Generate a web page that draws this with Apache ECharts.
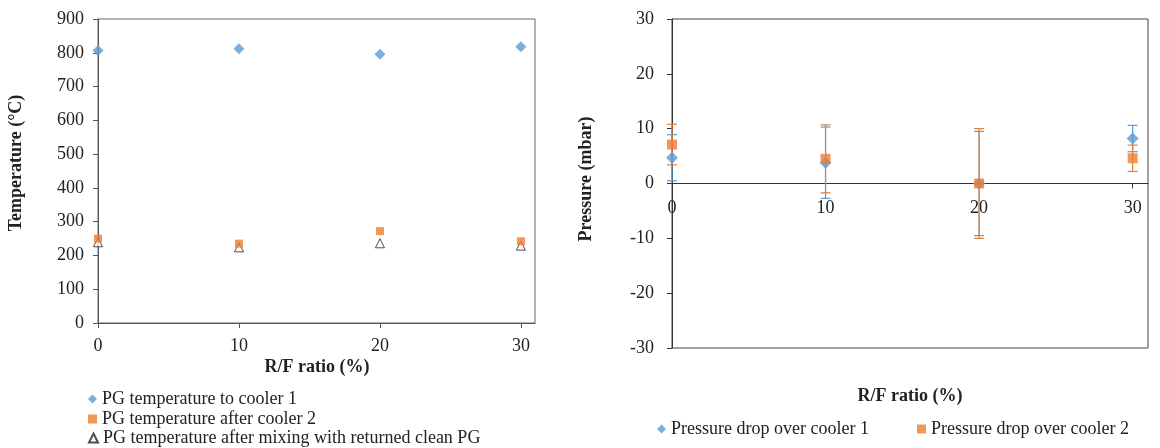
<!DOCTYPE html>
<html>
<head>
<meta charset="utf-8">
<script src="https://cdn.jsdelivr.net/npm/echarts@6/dist/echarts.min.js"></script>
<style>
  html, body { margin: 0; padding: 0; background: #fff; }
  #chart { width: 1160px; height: 448px; }
</style>
</head>
<body>
<div id="chart"></div>
<script>
// R/F ratio (%)
const ratios = [0, 10, 20, 30];

// left: temperatures (°C)
const tempToCooler1 = [807, 812, 796, 818];
const tempAfterCooler2 = [250, 235, 272, 242];
const tempAfterMixing = [239, 224, 236, 229];

// right: pressure drop (mbar) with error
const dpCooler1 = [4.7, 3.8, 0.0, 8.2];
const dpCooler1Err = [4.2, 6.5, 9.5, 2.4];
const dpCooler2 = [7.1, 4.5, 0.0, 4.6];
const dpCooler2Err = [3.7, 6.2, 10.0, 2.4];

const BLUE = '#5B9BD5';
const ORANGE = '#ED7D31';
const FONT = 'Liberation Serif';

const myChart = echarts.init(document.getElementById('chart'));

const pairs = (xs, ys) => xs.map((x, i) => [x, ys[i]]);
const triples = (xs, ys, es) => xs.map((x, i) => [x, ys[i], es[i]]);

// 误差线
function errorBar(color) {
    return function (params, api) {
        const x = api.value(0), y = api.value(1), e = api.value(2);
        const top = api.coord([x, y + e]);
        const bot = api.coord([x, y - e]);
        const w = 5;
        const style = { stroke: color, lineWidth: 1.2 };
        return {
            type: 'group',
            children: [
                { type: 'line', shape: { x1: top[0], y1: top[1], x2: bot[0], y2: bot[1] }, style },
                { type: 'line', shape: { x1: top[0] - w, y1: top[1], x2: top[0] + w, y2: top[1] }, style },
                { type: 'line', shape: { x1: bot[0] - w, y1: bot[1], x2: bot[0] + w, y2: bot[1] }, style }
            ]
        };
    };
}

const axisText = { fontFamily: FONT, fontSize: 18, color: '#222' };
const titleText = { fontFamily: FONT, fontSize: 18, fontWeight: 'bold', color: '#222' };
const legendText = { fontFamily: FONT, fontSize: 18, color: '#222' };

function legendAt(left, top, name, icon) {
    return {
        orient: 'horizontal', left, top, itemWidth: 9, itemHeight: 9, itemGap: 0,
        textStyle: legendText, padding: 0,
        data: [{ name, icon }]
    };
}

const option = {
    backgroundColor: '#ffffff',
    animation: false,
    textStyle: { fontFamily: FONT },
    title: [
        { text: 'R/F ratio (%)', left: 317, top: 358, textAlign: 'center', padding: 0, textStyle: titleText },
        { text: 'R/F ratio (%)', left: 910, top: 387, textAlign: 'center', padding: 0, textStyle: titleText }
    ],
    graphic: [
        { type: 'text', x: 16, y: 163, rotation: Math.PI / 2,
          style: { text: 'Temperature (°C)', font: 'bold 18px "Liberation Serif"', fill: '#222',
                   textAlign: 'center', textVerticalAlign: 'middle' } },
        { type: 'text', x: 586, y: 179, rotation: Math.PI / 2,
          style: { text: 'Pressure (mbar)', font: 'bold 18px "Liberation Serif"', fill: '#222',
                   textAlign: 'center', textVerticalAlign: 'middle' } }
    ],
    grid: [
        { left: 98, top: 19, width: 437, height: 304, show: true, borderColor: '#666', borderWidth: 1 },
        { left: 672, top: 19, width: 476, height: 329, show: true, borderColor: '#444', borderWidth: 1 }
    ],
    legend: [
        legendAt(88, 390, 'PG temperature to cooler 1', 'diamond'),
        legendAt(88, 410, 'PG temperature after cooler 2', 'rect'),
        legendAt(88, 429, 'PG temperature after mixing with returned clean PG', 'triangle'),
        legendAt(657, 420, 'Pressure drop over cooler 1', 'diamond'),
        legendAt(917, 420, 'Pressure drop over cooler 2', 'rect')
    ],
    xAxis: [
        {
            gridIndex: 0, type: 'value', min: 0, max: 31, interval: 10,
            splitLine: { show: false }, axisLine: { lineStyle: { color: '#555' } },
            axisTick: { show: true, length: 5, lineStyle: { color: '#555' } },
            axisLabel: Object.assign({ margin: 14, showMaxLabel: false }, axisText)
        },
        {
            // 轴线放在 y=0 处（网格中线）
            gridIndex: 1, type: 'value', min: 0, max: 31, interval: 10,
            offset: -164.5,
            splitLine: { show: false },
            axisLine: { onZero: false, lineStyle: { color: '#333', width: 1 } },
            axisTick: { show: true, length: 5, lineStyle: { color: '#333' } },
            axisLabel: Object.assign({ margin: 16, showMaxLabel: false }, axisText)
        }
    ],
    yAxis: [
        {
            gridIndex: 0, type: 'value', min: 0, max: 900, interval: 100,
            splitLine: { show: false }, axisLine: { show: true, lineStyle: { color: '#555' } },
            axisTick: { show: true, length: 5, lineStyle: { color: '#555' } },
            axisLabel: Object.assign({ margin: 14 }, axisText)
        },
        {
            gridIndex: 1, type: 'value', min: -30, max: 30, interval: 10,
            splitLine: { show: false }, axisLine: { show: true, lineStyle: { color: '#333' } },
            axisTick: { show: true, length: 5, lineStyle: { color: '#333' } },
            axisLabel: Object.assign({ margin: 18 }, axisText)
        }
    ],
    series: [
        {
            name: 'PG temperature to cooler 1', type: 'scatter', xAxisIndex: 0, yAxisIndex: 0,
            symbol: 'diamond', symbolSize: 11, itemStyle: { color: BLUE },
            data: pairs(ratios, tempToCooler1)
        },
        {
            name: 'PG temperature after mixing with returned clean PG', type: 'scatter', xAxisIndex: 0, yAxisIndex: 0,
            symbol: 'triangle', symbolSize: 9, itemStyle: { color: '#fff', borderColor: '#222', borderWidth: 1 },
            data: pairs(ratios, tempAfterMixing)
        },
        {
            name: 'PG temperature after cooler 2', type: 'scatter', xAxisIndex: 0, yAxisIndex: 0,
            symbol: 'rect', symbolSize: 8, itemStyle: { color: ORANGE },
            data: pairs(ratios, tempAfterCooler2)
        },
        {
            type: 'custom', xAxisIndex: 1, yAxisIndex: 1, renderItem: errorBar(BLUE), z: 1,
            data: triples(ratios, dpCooler1, dpCooler1Err), silent: true
        },
        {
            type: 'custom', xAxisIndex: 1, yAxisIndex: 1, renderItem: errorBar(ORANGE), z: 1,
            data: triples(ratios, dpCooler2, dpCooler2Err), silent: true
        },
        {
            name: 'Pressure drop over cooler 1', type: 'scatter', xAxisIndex: 1, yAxisIndex: 1,
            symbol: 'diamond', symbolSize: 12, itemStyle: { color: BLUE }, z: 3,
            data: pairs(ratios, dpCooler1)
        },
        {
            name: 'Pressure drop over cooler 2', type: 'scatter', xAxisIndex: 1, yAxisIndex: 1,
            symbol: 'rect', symbolSize: 10, itemStyle: { color: ORANGE }, z: 3,
            data: pairs(ratios, dpCooler2)
        }
    ]
};

myChart.setOption(option);
</script>
</body>
</html>
